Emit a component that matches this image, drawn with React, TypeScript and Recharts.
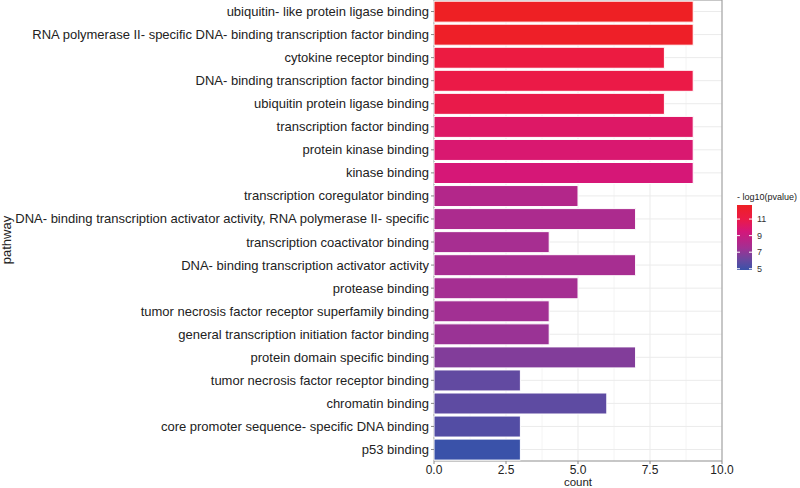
import { BarChart, Bar, Cell, XAxis, YAxis, CartesianGrid, ReferenceArea } from 'recharts';

const pathways = [
  'ubiquitin- like protein ligase binding',
  'RNA polymerase II- specific DNA- binding transcription factor binding',
  'cytokine receptor binding',
  'DNA- binding transcription factor binding',
  'ubiquitin protein ligase binding',
  'transcription factor binding',
  'protein kinase binding',
  'kinase binding',
  'transcription coregulator binding',
  'DNA- binding transcription activator activity, RNA polymerase II- specific',
  'transcription coactivator binding',
  'DNA- binding transcription activator activity',
  'protease binding',
  'tumor necrosis factor receptor superfamily binding',
  'general transcription initiation factor binding',
  'protein domain specific binding',
  'tumor necrosis factor receptor binding',
  'chromatin binding',
  'core promoter sequence- specific DNA binding',
  'p53 binding',
];

const counts = [9, 9, 8, 9, 8, 9, 9, 9, 5, 7, 4, 7, 5, 4, 4, 7, 3, 6, 3, 3];

const logP = [12.7, 12.5, 11.3, 11.0, 10.9, 10.1, 9.8, 9.6, 8.2, 7.9, 7.7, 7.7, 7.6, 7.5, 7.3, 6.7, 5.9, 5.8, 5.5, 4.85];

const xTicks = [0, 2.5, 5, 7.5, 10];
const xMinorTicks = [1.25, 3.75, 6.25, 8.75];
const xDomain = [0, 10];
const legendTicks = [5, 7, 9, 11];
const legendRange = [4.85, 12.7];

// colour stops of the fill gradient (value -> colour)
const colorStops: [number, string][] = [
  [4.85, '#3a52a9'],
  [6, '#6649a0'],
  [7.5, '#a23093'],
  [9.5, '#d4177a'],
  [11, '#eb1a47'],
  [12.7, '#ee2024'],
];

const hex = (c: string) => [1, 3, 5].map((i) => parseInt(c.slice(i, i + 2), 16));

function colorFor(v: number) {
  for (let i = 0; i < colorStops.length - 1; i++) {
    const [a, ca] = colorStops[i];
    const [b, cb] = colorStops[i + 1];
    if (v <= b || i === colorStops.length - 2) {
      const t = Math.max(0, Math.min(1, (v - a) / (b - a)));
      const A = hex(ca);
      const B = hex(cb);
      const rgb = A.map((x, k) => Math.round(x + (B[k] - x) * t));
      return `rgb(${rgb.join(',')})`;
    }
  }
  return colorStops[0][1];
}

const data = pathways.map((pathway, i) => ({ pathway, count: counts[i], logP: logP[i] }));

const font = '"Liberation Sans", Arial, sans-serif';

function PathwayTick(props: any) {
  const { x, y, payload } = props;
  return (
    <text x={x} y={y} dy={4.5} textAnchor="end" fontSize={13} fill="#222" fontFamily={font}>
      {payload.value}
    </text>
  );
}

function CountTick(props: any) {
  const { x, y, payload } = props;
  return (
    <text x={x} y={y} dy={8} textAnchor="middle" fontSize={12} fill="#222" fontFamily={font}>
      {payload.value.toFixed(1)}
    </text>
  );
}

function Overlay() {
  const x = 737;
  const top = 205;
  const h = 65;
  const w = 15;
  const [lo, hi] = legendRange;
  const yOf = (v: number) => top + ((hi - v) / (hi - lo)) * h;
  return (
    <svg width={800} height={488} style={{ position: 'absolute', left: 0, top: 0, pointerEvents: 'none' }}>
      <defs>
        <linearGradient id="lg" x1="0" y1="1" x2="0" y2="0">
          {colorStops.map(([v, c]) => (
            <stop key={v} offset={(v - lo) / (hi - lo)} stopColor={c} />
          ))}
        </linearGradient>
      </defs>
      <text x={11} y={240} transform="rotate(-90 11 240)" textAnchor="middle" fontSize={13} fontFamily={font} fill="#222">
        pathway
      </text>
      <text x={578} y={486} textAnchor="middle" fontSize={11.5} fontFamily={font} fill="#222">
        count
      </text>
      <text x={x} y={200} fontSize={9} fontFamily={font} fill="#222">
        - log10(pvalue)
      </text>
      <rect x={x} y={top} width={w} height={h} fill="url(#lg)" />
      {legendTicks.map((t) => (
        <g key={t}>
          <line x1={x} x2={x + 3} y1={yOf(t)} y2={yOf(t)} stroke="#fff" strokeWidth={1} />
          <line x1={x + w - 3} x2={x + w} y1={yOf(t)} y2={yOf(t)} stroke="#fff" strokeWidth={1} />
          <text x={x + w + 5} y={yOf(t) + 3} fontSize={9} fontFamily={font} fill="#333">
            {t}
          </text>
        </g>
      ))}
    </svg>
  );
}

export default function App() {
  return (
    <div style={{ position: 'relative', width: 800, height: 488, background: '#fff' }}>
      <style>{'body{margin:0}'}</style>
      <BarChart
        width={800}
        height={488}
        data={data}
        layout="vertical"
        margin={{ top: 0, right: 78, bottom: 0, left: 0 }}
        barCategoryGap="5%"
      >
        <CartesianGrid
          horizontal={false}
          stroke="#f4f4f4"
          verticalCoordinatesGenerator={({ offset }: any) =>
            xMinorTicks.map((t) => offset.left + ((t - xDomain[0]) / (xDomain[1] - xDomain[0])) * offset.width)
          }
        />
        <CartesianGrid stroke="#ebebeb" strokeWidth={1} />
        <XAxis
          type="number"
          dataKey="count"
          domain={xDomain}
          ticks={xTicks}
          tickSize={3}
          axisLine={false}
          tickLine={{ stroke: '#888' }}
          tick={<CountTick />}
          height={27}
        />
        <YAxis
          type="category"
          dataKey="pathway"
          width={434}
          tickSize={3}
          axisLine={false}
          tickLine={{ stroke: '#888' }}
          tick={<PathwayTick />}
          interval={0}
        />
        <Bar dataKey="count" stroke="#fff" strokeWidth={1} isAnimationActive={false}>
          {data.map((d) => (
            <Cell key={d.pathway} fill={colorFor(d.logP)} />
          ))}
        </Bar>
        <ReferenceArea x1={0} x2={10} fill="none" stroke="#999" strokeWidth={1} ifOverflow="visible" />
      </BarChart>
      <Overlay />
    </div>
  );
}
